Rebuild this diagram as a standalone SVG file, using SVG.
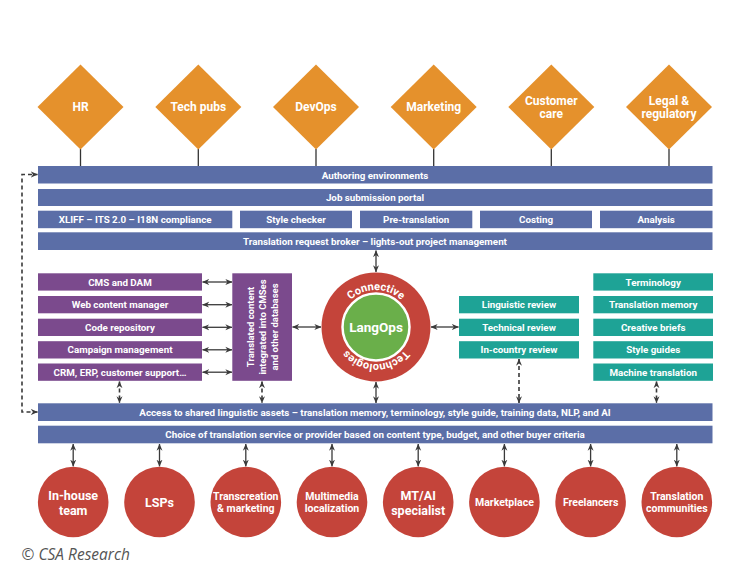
<svg xmlns="http://www.w3.org/2000/svg" width="750" height="565" viewBox="0 0 750 565">
<defs>
<marker id="ah" viewBox="0 0 8 8" refX="7.6" refY="4" markerWidth="7" markerHeight="7" markerUnits="userSpaceOnUse" orient="auto-start-reverse"><path d="M0,0.6 L8,4 L0,7.4 L2.4,4 z" fill="#3a3a3a"/></marker>
<path id="ring" d="M339,327 A37,37 0 1 1 413,327 A37,37 0 1 1 339,327"/>
</defs>
<style>
.t{font-family:Roboto,"Liberation Sans",Arial,sans-serif;font-weight:700;fill:#fff;text-anchor:middle;dominant-baseline:central}
.s9{font-size:9.8px}
.bar{fill:#5b6ea7}
.dia{fill:#e5912c}
.pur{fill:#7b4a8d}
.teal{fill:#1ea396}
.red{fill:#c4443a}
.stem{stroke:#333;stroke-width:1.3}
.arr{stroke:#3a3a3a;stroke-width:1.3;fill:none;marker-start:url(#ah);marker-end:url(#ah)}
.dash{stroke:#3a3a3a;stroke-width:1.6;stroke-dasharray:4 3;fill:none;marker-start:url(#ah);marker-end:url(#ah)}
.copy{font-family:"Open Sans","Liberation Sans",sans-serif;font-style:italic;font-size:15.5px;fill:#555}
</style>
<rect width="750" height="565" fill="#fff"/>

<g id="connectors">
<line class="stem" x1="80.5" y1="149" x2="80.5" y2="166"/>
<line class="stem" x1="198.3" y1="149" x2="198.3" y2="166"/>
<line class="stem" x1="316" y1="149" x2="316" y2="166"/>
<line class="stem" x1="433.7" y1="149" x2="433.7" y2="166"/>
<line class="stem" x1="551.3" y1="149" x2="551.3" y2="166"/>
<line class="stem" x1="669" y1="149" x2="669" y2="166"/>
<line class="arr" x1="376" y1="250.5" x2="376" y2="272"/>
<line class="arr" x1="376" y1="382" x2="376" y2="403"/>
<line class="arr" x1="292.5" y1="327" x2="321" y2="327"/>
<line class="arr" x1="431" y1="327" x2="458.5" y2="327"/>
<line class="arr" x1="202.5" y1="282" x2="232" y2="282"/>
<line class="arr" x1="202.5" y1="304.7" x2="232" y2="304.7"/>
<line class="arr" x1="202.5" y1="327.3" x2="232" y2="327.3"/>
<line class="arr" x1="202.5" y1="349.8" x2="232" y2="349.8"/>
<line class="arr" x1="202.5" y1="372.2" x2="232" y2="372.2"/>
<line class="dash" x1="119.5" y1="381.5" x2="119.5" y2="403"/>
<line class="dash" x1="262" y1="381.5" x2="262" y2="403"/>
<line class="dash" x1="519" y1="359" x2="519" y2="403"/>
<line class="dash" x1="656.5" y1="381.5" x2="656.5" y2="403"/>
<path class="dash" d="M37.5,412 H22 V174.5 H37.5"/>
<line class="arr" x1="73.2" y1="444" x2="73.2" y2="466.3"/>
<line class="arr" x1="159.5" y1="444" x2="159.5" y2="466.3"/>
<line class="arr" x1="245.8" y1="444" x2="245.8" y2="466.3"/>
<line class="arr" x1="332" y1="444" x2="332" y2="466.3"/>
<line class="arr" x1="418.2" y1="444" x2="418.2" y2="466.3"/>
<line class="arr" x1="504.4" y1="444" x2="504.4" y2="466.3"/>
<line class="arr" x1="590.6" y1="444" x2="590.6" y2="466.3"/>
<line class="arr" x1="676.8" y1="444" x2="676.8" y2="466.3"/>
</g>

<g id="hr"><polygon class="dia" points="80.5,64.5 123.5,107 80.5,149.5 37.5,107"/><text class="t" x="80.5" y="107" font-size="12">HR</text></g>
<g id="techpubs"><polygon class="dia" points="198.3,64.5 241.3,107 198.3,149.5 155.3,107"/><text class="t" x="198.3" y="107" font-size="12">Tech pubs</text></g>
<g id="devops"><polygon class="dia" points="316,64.5 359,107 316,149.5 273,107"/><text class="t" x="316" y="107" font-size="12">DevOps</text></g>
<g id="marketing"><polygon class="dia" points="433.7,64.5 476.7,107 433.7,149.5 390.7,107"/><text class="t" x="433.7" y="107" font-size="12">Marketing</text></g>
<g id="customercare"><polygon class="dia" points="551.3,64.5 594.3,107 551.3,149.5 508.3,107"/><text class="t" x="551.3" y="101" font-size="12">Customer</text><text class="t" x="551.3" y="114" font-size="12">care</text></g>
<g id="legal"><polygon class="dia" points="669,64.5 712,107 669,149.5 626,107"/><text class="t" x="669" y="101" font-size="12">Legal &amp;</text><text class="t" x="669" y="114" font-size="12">regulatory</text></g>

<g id="authoring"><rect class="bar" x="38" y="166" width="674.5" height="17.5"/><text class="t s9" x="375" y="175">Authoring environments</text></g>
<g id="jobsubmission"><rect class="bar" x="38" y="189" width="674.5" height="17"/><text class="t s9" x="375" y="197.5">Job submission portal</text></g>
<g id="xliff"><rect class="bar" x="38" y="210.7" width="194.3" height="17.5"/><text class="t s9" x="135.2" y="219.5">XLIFF – ITS 2.0 – I18N compliance</text></g>
<g id="stylechecker"><rect class="bar" x="240" y="210.7" width="112" height="17.5"/><text class="t s9" x="296" y="219.5">Style checker</text></g>
<g id="pretranslation"><rect class="bar" x="360" y="210.7" width="112.3" height="17.5"/><text class="t s9" x="416.2" y="219.5">Pre-translation</text></g>
<g id="costing"><rect class="bar" x="480" y="210.7" width="112" height="17.5"/><text class="t s9" x="536" y="219.5">Costing</text></g>
<g id="analysis"><rect class="bar" x="600" y="210.7" width="112.5" height="17.5"/><text class="t s9" x="656.2" y="219.5">Analysis</text></g>
<g id="broker"><rect class="bar" x="38" y="232.3" width="674.5" height="17.7"/><text class="t s9" x="375" y="241.2">Translation request broker – lights-out project management</text></g>

<g id="cms"><rect class="pur" x="38" y="273.3" width="164" height="17.3"/><text class="t s9" x="120" y="282">CMS and DAM</text></g>
<g id="webcm"><rect class="pur" x="38" y="296" width="164" height="17.3"/><text class="t s9" x="120" y="304.7">Web content manager</text></g>
<g id="coderepo"><rect class="pur" x="38" y="318.7" width="164" height="17.3"/><text class="t s9" x="120" y="327.3">Code repository</text></g>
<g id="campaign"><rect class="pur" x="38" y="341.2" width="164" height="17.3"/><text class="t s9" x="120" y="349.8">Campaign management</text></g>
<g id="crm"><rect class="pur" x="38" y="363.5" width="164" height="17.3"/><text class="t s9" x="120" y="372.2">CRM, ERP, customer support…</text></g>
<g id="translatedcontent"><rect class="pur" x="232.3" y="273.3" width="59.7" height="107.5"/>
<g transform="translate(262,327) rotate(-90)"><text class="t" font-size="9.5" x="0" y="-11.5">Translated content</text><text class="t" font-size="9.5" x="0" y="0.7">integrated into CMSes</text><text class="t" font-size="9.5" x="0" y="12.9">and other databases</text></g></g>

<g id="langops">
<circle class="red" cx="376" cy="327" r="54.5"/>
<circle cx="376" cy="327" r="33.5" fill="#6aaf4a" stroke="#fff" stroke-width="2.5"/>
<text class="t" x="376" y="327" font-size="13.5">LangOps</text>
<text font-family="Roboto,'Liberation Sans',Arial,sans-serif" font-weight="700" font-size="11" fill="#fff" text-anchor="middle"><textPath href="#ring" startOffset="25%">Connective</textPath></text>
<text font-family="Roboto,'Liberation Sans',Arial,sans-serif" font-weight="700" font-size="11" fill="#fff" text-anchor="middle"><textPath href="#ring" startOffset="75%">Technologies</textPath></text>
</g>

<g id="linguistic"><rect class="teal" x="459" y="296" width="120" height="17.3"/><text class="t s9" x="519" y="304.7">Linguistic review</text></g>
<g id="technical"><rect class="teal" x="459" y="318.7" width="120" height="17.3"/><text class="t s9" x="519" y="327.3">Technical review</text></g>
<g id="incountry"><rect class="teal" x="459" y="341.2" width="120" height="17.3"/><text class="t s9" x="519" y="349.8">In-country review</text></g>

<g id="terminology"><rect class="teal" x="593.3" y="273.3" width="119.7" height="17.3"/><text class="t s9" x="653.2" y="282">Terminology</text></g>
<g id="tm"><rect class="teal" x="593.3" y="296" width="119.7" height="17.3"/><text class="t s9" x="653.2" y="304.7">Translation memory</text></g>
<g id="briefs"><rect class="teal" x="593.3" y="318.7" width="119.7" height="17.3"/><text class="t s9" x="653.2" y="327.3">Creative briefs</text></g>
<g id="styleguides"><rect class="teal" x="593.3" y="341.2" width="119.7" height="17.3"/><text class="t s9" x="653.2" y="349.8">Style guides</text></g>
<g id="mt"><rect class="teal" x="593.3" y="363.5" width="119.7" height="17.3"/><text class="t s9" x="653.2" y="372.2">Machine translation</text></g>

<g id="access"><rect class="bar" x="38" y="403.3" width="674.5" height="17.7"/><text class="t s9" x="375" y="412.2">Access to shared linguistic assets – translation memory, terminology, style guide, training data, NLP, and AI</text></g>
<g id="choice"><rect class="bar" x="38" y="425.7" width="674.5" height="17.6"/><text class="t s9" x="375" y="434.5">Choice of translation service or provider based on content type, budget, and other buyer criteria</text></g>

<g id="inhouse"><circle class="red" cx="73.2" cy="502" r="35.3"/><text class="t" x="73.2" y="495" font-size="12.5">In-house</text><text class="t" x="73.2" y="510" font-size="12.5">team</text></g>
<g id="lsps"><circle class="red" cx="159.5" cy="502" r="35.3"/><text class="t" x="159.5" y="502" font-size="12.5">LSPs</text></g>
<g id="transcreation"><circle class="red" cx="245.8" cy="502" r="35.3"/><text class="t" x="245.8" y="496" font-size="10.5">Transcreation</text><text class="t" x="245.8" y="508.5" font-size="10.5">&amp; marketing</text></g>
<g id="multimedia"><circle class="red" cx="332" cy="502" r="35.3"/><text class="t" x="332" y="496" font-size="10.5">Multimedia</text><text class="t" x="332" y="508.5" font-size="10.5">localization</text></g>
<g id="mtai"><circle class="red" cx="418.2" cy="502" r="35.3"/><text class="t" x="418.2" y="495" font-size="12.5">MT/AI</text><text class="t" x="418.2" y="510" font-size="12.5">specialist</text></g>
<g id="marketplace"><circle class="red" cx="504.4" cy="502" r="35.3"/><text class="t" x="504.4" y="502" font-size="10.5">Marketplace</text></g>
<g id="freelancers"><circle class="red" cx="590.6" cy="502" r="35.3"/><text class="t" x="590.6" y="502" font-size="10.5">Freelancers</text></g>
<g id="communities"><circle class="red" cx="676.8" cy="502" r="35.3"/><text class="t" x="676.8" y="496" font-size="10.5">Translation</text><text class="t" x="676.8" y="508.5" font-size="10.5">communities</text></g>

<text class="copy" x="21.5" y="560">© CSA Research</text>
</svg>
